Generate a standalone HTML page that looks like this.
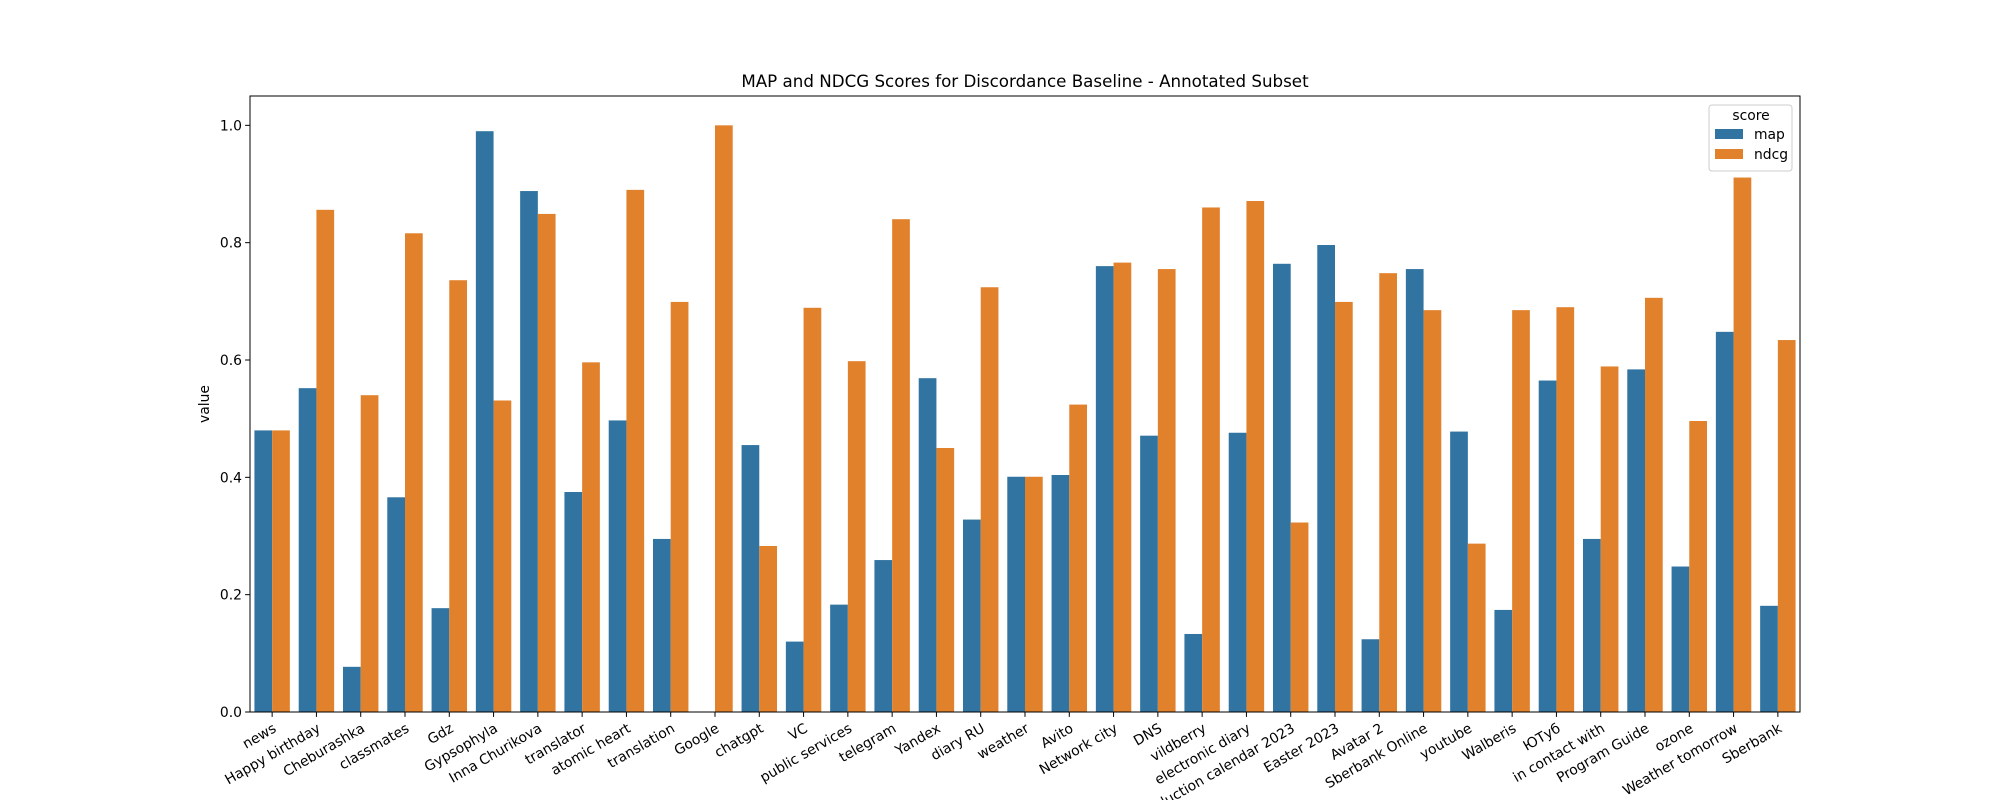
<!DOCTYPE html>
<html><head><meta charset="utf-8">
<style>
html,body{margin:0;padding:0;background:#fff;}
svg{display:block;font-family:"DejaVu Sans","Liberation Sans","Noto Sans CJK SC",sans-serif;}
</style></head>
<body>
<svg id="chart" width="2000" height="800" viewBox="0 0 2000 800" xmlns="http://www.w3.org/2000/svg">
<rect width="2000" height="800" fill="#fff"/>
<text x="1025" y="87" font-size="16.7" text-anchor="middle" fill="#000">MAP and NDCG Scores for Discordance Baseline - Annotated Subset</text>
<text transform="translate(209,404) rotate(-90)" font-size="13.9" text-anchor="middle" fill="#000">value</text>
<g id="bars"></g>
<g id="axes"></g>
</svg>
<script>
const categories = ["news","Happy birthday","Cheburashka","classmates","Gdz","Gypsophyla","Inna Churikova","translator","atomic heart","translation","Google","chatgpt","VC","public services","telegram","Yandex","diary RU","weather","Avito","Network city","DNS","vildberry","electronic diary","production calendar 2023","Easter 2023","Avatar 2","Sberbank Online","youtube","Walberis","ЮТуб","in contact with","Program Guide","ozone","Weather tomorrow","Sberbank"];
const mapValues = [0.48,0.552,0.077,0.366,0.177,0.99,0.888,0.375,0.497,0.295,0,0.455,0.12,0.183,0.259,0.569,0.328,0.401,0.404,0.76,0.471,0.133,0.476,0.764,0.796,0.124,0.755,0.478,0.174,0.565,0.295,0.584,0.248,0.648,0.181];
const ndcgValues = [0.48,0.856,0.54,0.816,0.736,0.531,0.849,0.596,0.89,0.699,1.0,0.283,0.689,0.598,0.84,0.45,0.724,0.401,0.524,0.766,0.755,0.86,0.871,0.323,0.699,0.748,0.685,0.287,0.685,0.69,0.589,0.706,0.496,0.911,0.634];
const yTicks = [0.0,0.2,0.4,0.6,0.8,1.0];
const yTickLabels = ["0.0","0.2","0.4","0.6","0.8","1.0"];
const seriesNames = ["map","ndcg"];
const seriesColors = ["#3274a1","#e1812c"];

const NS = "http://www.w3.org/2000/svg";
const L = 250, R = 1800, T = 96, B = 712, YMAX = 1.05;
const n = categories.length;
const band = (R - L) / n;
function xScale(i){ return L + band * (i + 0.5); }
function yScale(v){ return B - (v / YMAX) * (B - T); }
function mk(tag, attrs, parent){ const e = document.createElementNS(NS, tag); for (const k in attrs) e.setAttribute(k, attrs[k]); parent.appendChild(e); return e; }

const barsG = document.getElementById('bars');
const axesG = document.getElementById('axes');
const bw = band * 0.4;
[mapValues, ndcgValues].forEach((vals, s) => {
  vals.forEach((v, i) => {
    const x = xScale(i) - bw + s * bw;
    const r = mk('rect', {x: x, y: yScale(v), width: bw, height: B - yScale(v), fill: seriesColors[s]}, barsG);
    
    
  });
});

const frame = mk('rect', {x: L, y: T, width: R - L, height: B - T, fill: 'none', stroke: '#000', 'stroke-width': 1}, axesG);



yTicks.forEach((t, i) => {
  const y = yScale(t);
  mk('line', {x1: L - 4.9, x2: L, y1: y, y2: y, stroke: '#000', 'stroke-width': 1}, axesG);
  const tx = mk('text', {x: L - 8, y: y + 5, 'font-size': 13.9, 'text-anchor': 'end', fill: '#000'}, axesG);
  tx.textContent = yTickLabels[i];
  
  
});

categories.forEach((c, i) => {
  const x = xScale(i);
  mk('line', {x1: x, x2: x, y1: B, y2: B + 4.9, stroke: '#000', 'stroke-width': 1}, axesG);
  const tx = mk('text', {transform: 'translate(' + (x + 5) + ',' + (B + 19) + ') rotate(-30)', 'font-size': 13.9, 'text-anchor': 'end', fill: '#000'}, axesG);
  tx.textContent = c;
  
  
});

// legend
const lg = mk('g', {}, axesG);


mk('rect', {x: 1709, y: 105, width: 83, height: 66, rx: 3, fill: '#fff', 'fill-opacity': 0.8, stroke: '#ccc'}, lg);
const lt = mk('text', {x: 1751, y: 120, 'font-size': 13.9, 'text-anchor': 'middle', fill: '#000'}, lg);
lt.textContent = 'score';


seriesNames.forEach((nm, s) => {
  const y = 129 + s * 20;
  const sw = mk('rect', {x: 1715, y: y, width: 28, height: 10, fill: seriesColors[s]}, lg);
  
  
  const t = mk('text', {x: 1754, y: y + 10, 'font-size': 13.9, fill: '#000'}, lg);
  t.textContent = nm;
  
  
});
</script>
</body></html>
